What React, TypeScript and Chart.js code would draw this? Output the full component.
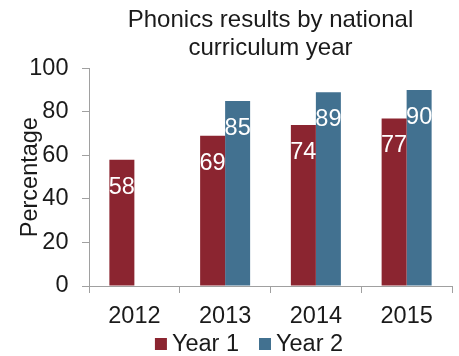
import React, { useEffect, useRef } from "react";
import { Chart, registerables } from "chart.js";

Chart.register(...registerables);

const categories = ["2012", "2013", "2014", "2015"];
const year1 = [58, 69, 74, 77];
const year2: (number | null)[] = [null, 85, 89, 90];
const seriesNames = ["Year 1", "Year 2"];
const titleLines = ["Phonics results by national", "curriculum year"];
const yTitle = "Percentage";
const yTicks = { min: 0, max: 100, step: 20 };

const FONT = "'Liberation Sans', Arial, sans-serif";
const RED = "#8b2530";
const BLUE = "#427190";
const TEXT = "#1a1a1a";
const AXIS = "#a0a0a0";
const FS = 23.5;

const dataLabels = {
  id: "dataLabels",
  afterDatasetsDraw(chart: any) {
    const ctx = chart.ctx;
    ctx.save();
    ctx.font = `${FS}px ${FONT}`;
    ctx.fillStyle = "#ffffff";
    ctx.textAlign = "center";
    ctx.textBaseline = "middle";
    chart.data.datasets.forEach((ds: any, i: number) => {
      const meta = chart.getDatasetMeta(i);
      meta.data.forEach((bar: any, j: number) => {
        const v = ds.data[j];
        if (v == null) return;
        ctx.fillText(String(v), bar.x, bar.y + 27.5);
      });
    });
    ctx.restore();
  },
};

const shiftTitle = {
  id: "shiftTitle",
  afterLayout(chart: any) {
    const t = chart.titleBlock;
    if (t) {
      t.left = chart.chartArea.left;
      t.right = chart.chartArea.right;
    }
  },
};

const customLegend = {
  id: "customLegend",
  afterDraw(chart: any) {
    const ctx = chart.ctx;
    ctx.save();
    ctx.font = `${FS}px ${FONT}`;
    ctx.textBaseline = "middle";
    ctx.textAlign = "left";
    const box = 12;
    const gap = 5;
    const itemGap = 20;
    const ds = chart.data.datasets;
    const widths = ds.map((d: any) => ctx.measureText(d.label).width);
    let total = 0;
    widths.forEach((w: number, i: number) => {
      total += box + gap + w + (i < widths.length - 1 ? itemGap : 0);
    });
    const cx = chart.width / 2 + 19.5;
    const cy = 344;
    let x = cx - total / 2;
    ds.forEach((d: any, i: number) => {
      ctx.fillStyle = d.backgroundColor;
      ctx.fillRect(x, cy - box / 2, box, box);
      x += box + gap;
      ctx.fillStyle = TEXT;
      ctx.fillText(d.label, x, cy + 0.5);
      x += widths[i] + itemGap;
    });
    ctx.restore();
  },
};

export default function App() {
  const ref = useRef<HTMLCanvasElement | null>(null);

  useEffect(() => {
    if (!ref.current) return;
    const chart = new Chart(ref.current, {
      type: "bar",
      data: {
        labels: categories,
        datasets: [
          { label: seriesNames[0], data: year1, backgroundColor: RED, borderWidth: 0 },
          { label: seriesNames[1], data: year2 as any, backgroundColor: BLUE, borderWidth: 0 },
        ],
      },
      options: {
        responsive: false,
        animation: false,
        events: [],
        layout: { padding: { top: 0, left: 0, right: 7, bottom: 16.8 } },
        datasets: { bar: { categoryPercentage: 0.551, barPercentage: 1 } } as any,
        plugins: {
          legend: { display: false },
          tooltip: { enabled: false },
          title: {
            display: true,
            text: titleLines,
            color: TEXT,
            font: { family: FONT, size: 24, weight: "normal", lineHeight: 1.14 },
            padding: { top: 7, bottom: 6.6 },
          },
        },
        scales: {
          x: {
            grid: {
              offset: true,
              drawOnChartArea: false,
              drawTicks: true,
              tickLength: 7,
              color: AXIS,
            },
            border: { color: AXIS, width: 1 },
            ticks: {
              color: TEXT,
              font: { family: FONT, size: FS },
              padding: 9,
            },
          },
          y: {
            min: yTicks.min,
            max: yTicks.max,
            afterFit(scale: any) {
              scale.width = 89;
            },
            grid: {
              drawOnChartArea: false,
              drawTicks: true,
              tickLength: 7,
              color: AXIS,
            },
            border: { color: AXIS, width: 1 },
            ticks: {
              stepSize: yTicks.step,
              color: TEXT,
              font: { family: FONT, size: FS },
              padding: 13.5,
            },
            title: {
              display: true,
              text: yTitle,
              color: TEXT,
              font: { family: FONT, size: FS },
              padding: { top: 16, bottom: 0 },
            },
          },
        },
      },
      plugins: [dataLabels, shiftTitle, customLegend],
    });
    return () => chart.destroy();
  }, []);

  return (
    <div style={{ position: "fixed", left: 0, top: 0, width: 459, height: 356, background: "#fff" }}>
      <canvas ref={ref} width={459} height={356} style={{ display: "block" }} />
    </div>
  );
}
